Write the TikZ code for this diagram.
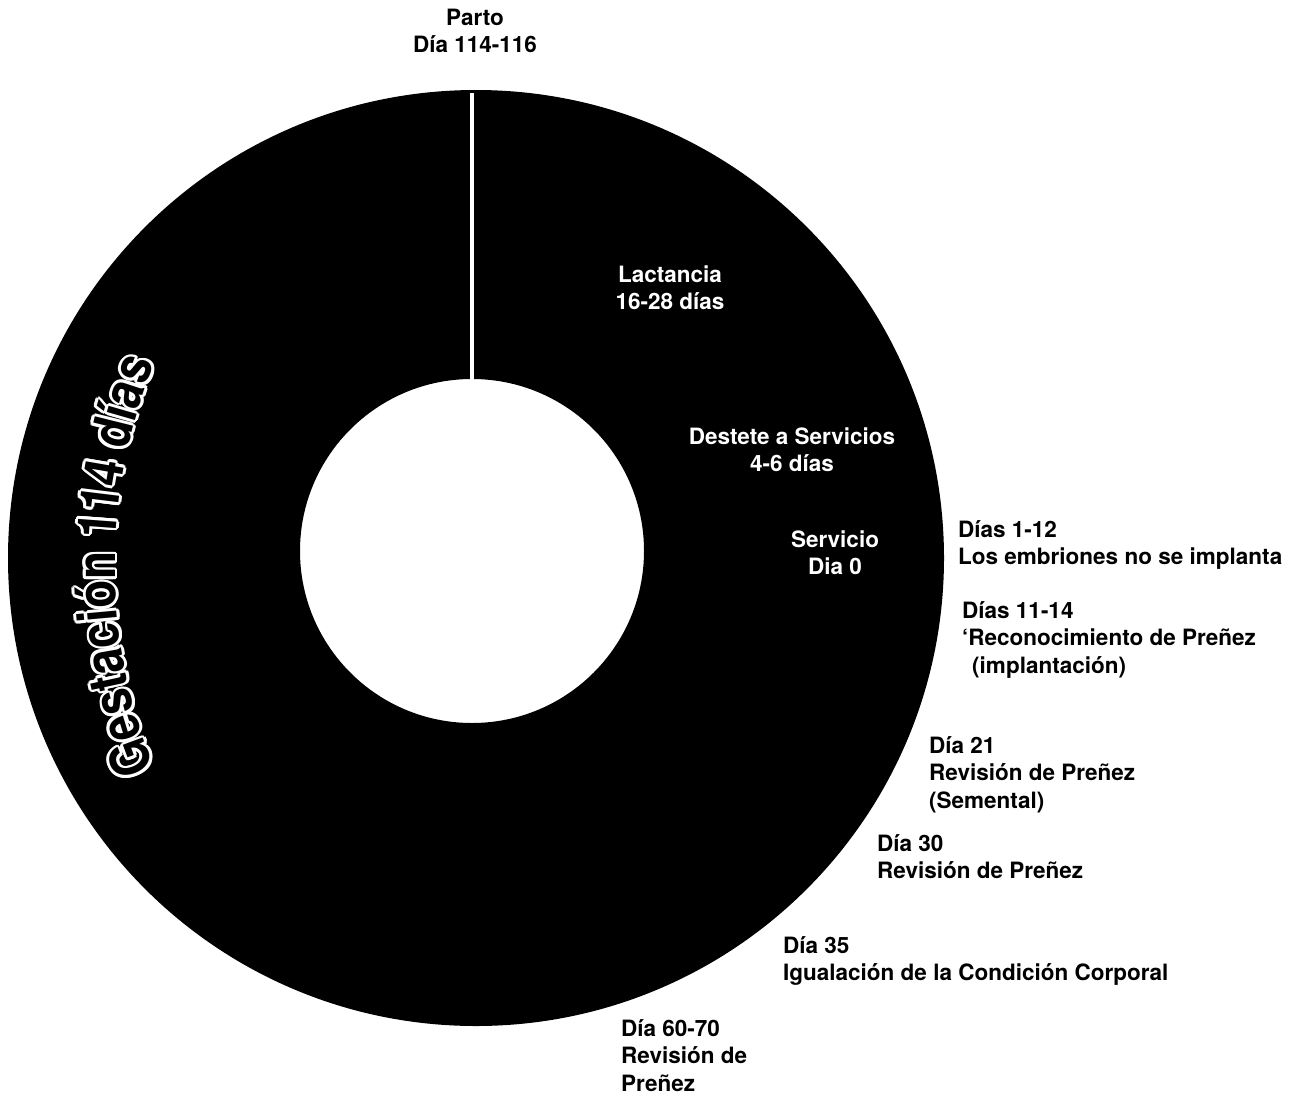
\documentclass[tikz,border=0pt]{standalone}
\usepackage{fontspec}
\setmainfont{TeX Gyre Heros}
\newfontfamily\gestfam[FakeStretch=0.85]{TeX Gyre Heros}
\usetikzlibrary{decorations.text}
\newcommand\mlines[2][l]{\begin{tabular}[t]{@{}#1@{}}#2\end{tabular}}
\newcommand\gestfont{\gestfam\bfseries\fontsize{54}{54}\selectfont}
\begin{document}
\begin{tikzpicture}[x=1pt,y=1pt,
  lbl/.style={font=\bfseries\fontsize{22.5}{27.5}\selectfont, inner sep=0pt, text=black},
  inlbl/.style={lbl, text=white, anchor=base},
  toplbl/.style={lbl, anchor=base},
  outlbl/.style={lbl, anchor=base west},
  gestpath/.style={decorate, decoration={text along path, text={|\gestfont|Gestación 114 días}, text align=center, text color=#1}}
]
\useasboundingbox (0,0) rectangle (1307,-1101);
% ring
\fill[black, even odd rule] (476,-558) circle[radius=468pt] (472,-551) circle[radius=172pt];
% white divider
\draw[white, line width=3.5pt] (472,-93) -- (472,-381);
% curved outlined title
\foreach \a in {0,30,...,330} {
  \path[gestpath=white] ([shift={(\a:2.8pt)}]650,-566) ++(215:535pt) arc[start angle=215, end angle=145, radius=535pt];
}
\path[gestpath=black] (650,-566) ++(215:535pt) arc[start angle=215, end angle=145, radius=535pt];
% labels
\node[toplbl] (parto) at (475,-25) {\mlines[c]{Parto\\Día 114-116}};
\node[inlbl] (lact) at (670,-282) {\mlines[c]{Lactancia\\16-28 días}};
\node[inlbl] (dest) at (792,-444) {\mlines[c]{Destete a Servicios\\4-6 días}};
\node[inlbl] (serv) at (835,-547) {\mlines[c]{Servicio\\Dia 0}};
\node[outlbl] (d1) at (958,-537) {\mlines{Días 1-12\\Los embriones no se implanta}};
\node[outlbl] (d11) at (962,-618) {\mlines{Días 11-14\\‘Reconocimiento de Preñez\\\hspace{10pt}(implantación)}};
\node[outlbl] (d21) at (929,-753) {\mlines{Día 21\\Revisión de Preñez\\(Semental)}};
\node[outlbl] (d30) at (877,-851) {\mlines{Día 30\\Revisión de Preñez}};
\node[outlbl] (d35) at (783,-953) {\mlines{Día 35\\Igualación de la Condición Corporal}};
\node[outlbl] (d60) at (621,-1036) {\mlines{Día 60-70\\Revisión de\\Preñez}};
\end{tikzpicture}
\end{document}
